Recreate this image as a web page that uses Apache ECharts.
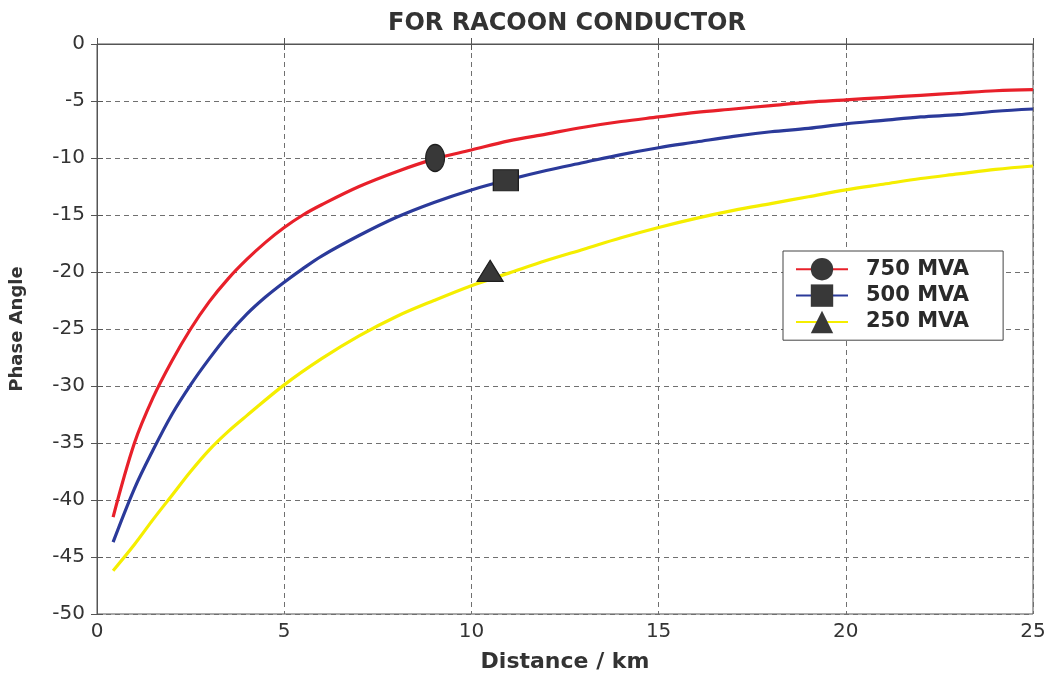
<!DOCTYPE html>
<html><head><meta charset="utf-8">
<script src="https://cdn.jsdelivr.net/npm/echarts@6/dist/echarts.min.js"></script>
<style>html,body{margin:0;padding:0;background:#fff}#c{width:1056px;height:678px}</style>
</head><body><div id="c"></div>
<script>
const title = 'FOR RACOON CONDUCTOR';
const xName = 'Distance / km';
const yName = 'Phase Angle';
const seriesNames = ['750 MVA', '500 MVA', '250 MVA'];
const seriesColors = ['#e8202a', '#2b3a9a', '#f5ee00'];
const markerSymbols = ['circle', 'rect', 'triangle'];

const dist750 = [0.43, 1, 1.5, 2, 2.5, 3, 3.5, 4, 4.5, 5, 5.5, 6, 7, 8, 9, 10, 11, 12, 13, 14, 15, 16, 17, 18, 19, 20, 21, 22, 23, 24, 25];
const val750  = [-41.5, -35, -31, -27.8, -25.0, -22.6, -20.6, -18.9, -17.4, -16.1, -15.0, -14.1, -12.5, -11.2, -10.1, -9.3, -8.5, -7.9, -7.3, -6.8, -6.4, -6.0, -5.7, -5.4, -5.1, -4.9, -4.7, -4.5, -4.3, -4.1, -4.0];

const dist500 = [0.43, 1, 1.5, 2, 2.5, 3, 3.5, 4, 4.5, 5, 5.5, 6, 7, 8, 9, 10, 11, 12, 13, 14, 15, 16, 17, 18, 19, 20, 21, 22, 23, 24, 25];
const val500  = [-43.7, -39, -35.6, -32.5, -29.9, -27.6, -25.5, -23.7, -22.2, -20.9, -19.7, -18.6, -16.8, -15.2, -13.9, -12.8, -11.9, -11.1, -10.4, -9.7, -9.1, -8.6, -8.1, -7.7, -7.4, -7.0, -6.7, -6.4, -6.2, -5.9, -5.7];

const dist250 = [0.43, 1, 1.5, 2, 2.5, 3, 3.5, 4, 5, 6, 7, 8, 9, 10, 11, 12, 13, 14, 15, 16, 17, 18, 19, 20, 21, 22, 23, 24, 25];
const val250  = [-46.2, -43.9, -41.7, -39.6, -37.5, -35.6, -34.0, -32.6, -29.9, -27.6, -25.6, -23.9, -22.5, -21.2, -20.1, -19.0, -18.0, -17.0, -16.1, -15.3, -14.6, -14.0, -13.4, -12.8, -12.3, -11.8, -11.4, -11.0, -10.7];

// one marker per curve: [distance, angle]
const markers = [[9.03, -10.0], [10.92, -11.95], [10.5, -19.9]];
const markerSizes = [[19, 27], [25, 21], [26, 21]];

const xTicks = [0, 5, 10, 15, 20, 25];
const yTicks = [0, -5, -10, -15, -20, -25, -30, -35, -40, -45, -50];

const dists = [dist750, dist500, dist250];
const vals = [val750, val500, val250];

const font = 'DejaVu Sans, Arial, sans-serif';
const markerColor = '#383838';

const series = [];
seriesNames.forEach((n, i) => {
  series.push({
    name: n, type: 'line', smooth: 0.35,
    data: dists[i].map((d, k) => [d, vals[i][k]]),
    showSymbol: false, symbol: markerSymbols[i], symbolSize: 20,
    lineStyle: { color: seriesColors[i], width: 3.2 },
    itemStyle: { color: markerColor, opacity: 1 },
    emphasis: { disabled: true }, z: 2
  });
});
seriesNames.forEach((n, i) => {
  series.push({
    name: n, type: 'scatter',
    data: [markers[i]],
    symbol: markerSymbols[i], symbolSize: markerSizes[i],
    itemStyle: { color: markerColor, opacity: 1, borderColor: '#1e1e1e', borderWidth: 1.2 },
    emphasis: { disabled: true }, z: 5
  });
});

const axisCommon = {
  axisLine: { show: true, lineStyle: { color: '#555' } },
  axisTick: { show: true, inside: true, length: 6, lineStyle: { color: '#555' } }
};

const chart = echarts.init(document.getElementById('c'), null, { renderer: 'canvas' });
chart.setOption({
  animation: false,
  backgroundColor: '#ffffff',
  title: {
    text: title, left: 562, top: 7, textAlign: 'center',
    textStyle: { fontFamily: font, fontWeight: 'bold', fontSize: 24, color: '#333' }
  },
  grid: { left: 97, right: 23, top: 44, bottom: 61, show: true, borderColor: '#555', borderWidth: 1, backgroundColor: 'transparent' },
  legend: {
    data: seriesNames,
    orient: 'vertical',
    left: 783, top: 251,
    padding: [7, 34, 7, 12],
    itemGap: 4,
    itemWidth: 52, itemHeight: 28,
    backgroundColor: '#fff',
    borderColor: '#444', borderWidth: 1,
    textStyle: { fontFamily: font, fontWeight: 'bold', fontSize: 21, color: '#2a2a2a', padding: [0, 0, 0, 13] }
  },
  xAxis: [{
    type: 'value', min: 0, max: 25, interval: 5,
    name: xName, nameLocation: 'middle', nameGap: 37,
    nameTextStyle: { fontFamily: font, fontWeight: 'bold', fontSize: 22, color: '#333' },
    ...axisCommon,
    axisLabel: { fontFamily: font, fontSize: 20, color: '#333', margin: 8,
      formatter: v => xTicks.includes(v) ? String(v) : '' },
    splitLine: { show: true, lineStyle: { color: '#707070', type: [5, 4], width: 1 } }
  }, {
    type: 'value', min: 0, max: 25, interval: 5, position: 'top',
    ...axisCommon, axisLabel: { show: false }, splitLine: { show: false }
  }],
  yAxis: [{
    type: 'value', min: -50, max: 0, interval: 5,
    name: yName, nameLocation: 'middle', nameGap: 71,
    nameTextStyle: { fontFamily: font, fontWeight: 'bold', fontSize: 18, color: '#333' },
    ...axisCommon,
    axisLabel: { fontFamily: font, fontSize: 20, color: '#333', margin: 12,
      formatter: v => yTicks.includes(v) ? String(v) : '' },
    splitLine: { show: true, lineStyle: { color: '#707070', type: [5, 4], width: 1 } }
  }, {
    type: 'value', min: -50, max: 0, interval: 5, position: 'right',
    ...axisCommon, axisLabel: { show: false }, splitLine: { show: false }
  }],
  series: series
});
</script></body></html>
